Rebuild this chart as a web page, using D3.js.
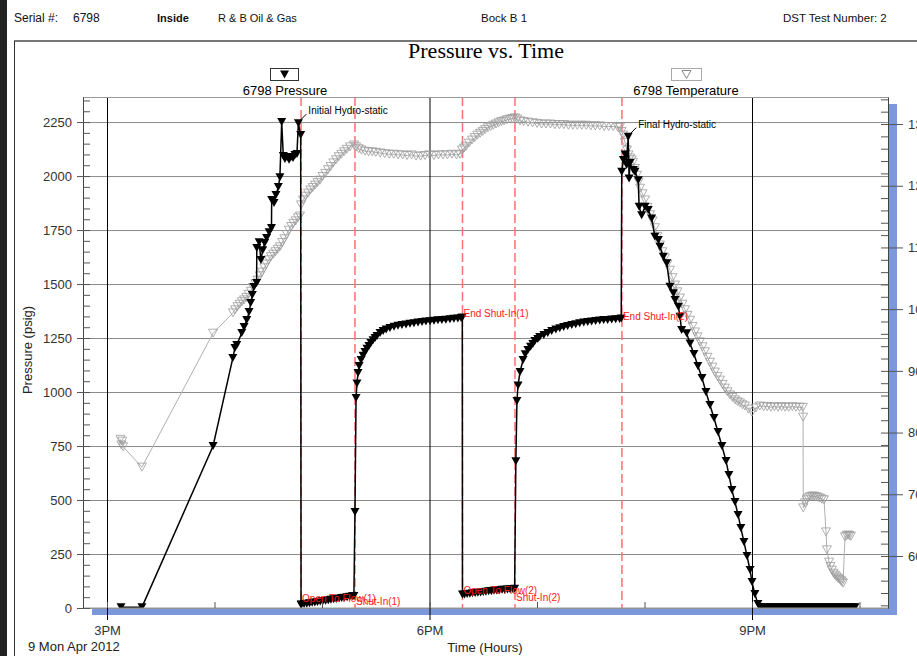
<!DOCTYPE html>
<html>
	<head>
		<title>Pressure vs. Time</title>
		<style>
			body { margin: 0; background: #fff; }
			svg text { font-family: "Liberation Sans", Arial, sans-serif; }
		</style>
	</head>
	<body>
		<script src="https://d3js.org/d3.v7.min.js"></script>
		<div id="wrapper"></div>
<script>
	// axis ticks (time is minutes after 3PM)
	var timeTicks = [0, 180, 360];
	var timeLabels = ["3PM", "6PM", "9PM"];
	var pressureTicks = [0, 250, 500, 750, 1000, 1250, 1500, 1750, 2000, 2250];
	var tempTicks = [60, 70, 80, 90, 100, 110, 120, 130];

	// red dashed event lines and their labels
	var eventTimes = [108.3, 138.4, 198.4, 227.7, 287.4];
	var eventLabels = ["Open To Flow(1)", "Shut-In(1)", "End Shut-In(1)", "Open To Flow(2)", "Shut-In(2)", "End Shut-In(2)"];
	var eventLabelTimes = [108.3, 138.4, 198.4, 198.4, 227.7, 287.4];
	var eventLabelPsi = [28, 14, 1347, 65, 32, 1333];

	// hydro-static call-outs
	var hydroLabels = ["Initial Hydro-static", "Final Hydro-static"];
	var hydroTimes = [106.8, 290.9];
	var hydroPsi = [2245, 2182];

	// 6798 Pressure [minute, psig]
	var pressure = [
		[7.8,4],[19.5,4],[59.2,750],[70.2,1157],[71.4,1204],[72.4,1218],[75.2,1273],[76.5,1301],[78.0,1333],
		[79.3,1370],[80.2,1412],[81.1,1449],[82.0,1486],[83.5,1505],[83.6,1667],[84.9,1694],[85.9,1611],
		[86.9,1657],[88.0,1690],[89.1,1713],[90.5,1740],[91.8,1759],[91.9,1889],[93.2,1875],[94.3,1912],
		[95.6,1949],[96.5,1995],[97.5,2250],[98.4,2093],[99.3,2079],[100.5,2088],[101.6,2075],[102.7,2088],
		[103.8,2083],[104.9,2097],[106.0,2102],[106.8,2245],[108.1,2190],[108.3,15],
		// flow 1
		[108.5,16],[110,18],[111.5,20],[113,22],[114.5,24],[116,26],[117.5,28],[119,30],[120.5,32],[122,34],
		[123.5,36],[125,38],[126.5,40],[128,42],[129.5,44],[131,46],[132.5,48],[134,50],[135.5,52],[137,54],[137.8,56],
		// shut-in 1
		[138.4,444],[139,972],[139.5,1040],[140.1,1088],[140.7,1120],[141.8,1148],[142.9,1168],[144,1185],
		[145.1,1200],[146.2,1213],[147.3,1227],[148.5,1240],[149.6,1250],[150.7,1259],[152.4,1273],[154.1,1282],
		[155.8,1290],[157.9,1296],[160.2,1302],[162.4,1307],[164.6,1310],[166.9,1313],[169.1,1316],[171.3,1319],
		[173.6,1322],[175.8,1324],[178,1326],[180.3,1328],[182.5,1330],[184.7,1332],[186.9,1333],[189.1,1335],
		[191.4,1337],[193.6,1339],[195.8,1341],[197.6,1343],[198.3,1345],
		// flow 2
		[198.4,62],[199.5,63],[201,65],[202.5,66],[204,68],[205.5,69],[207,71],[208.5,72],[210,74],[211.5,75],
		[213,77],[214.5,78],[216,80],[217.5,81],[219,82],[220.5,84],[222,85],[223.5,86],[225,87],[226.5,88],[227.5,89],
		// shut-in 2
		[228.2,680],[228.8,958],[229.4,1030],[230.5,1093],[232.2,1148],[233.4,1175],[234.9,1194],[236.4,1210],
		[237.7,1222],[238.8,1236],[240.4,1246],[241.5,1255],[243.8,1264],[246,1273],[248.2,1282],[250.5,1289],
		[252.7,1295],[254.9,1301],[257.1,1306],[259.4,1310],[261.6,1314],[263.8,1318],[266.1,1322],[268.3,1324],
		[270.5,1327],[272.7,1329],[275,1331],[277.2,1333],[279.4,1334],[281.7,1336],[283.9,1337],[286.1,1338],[287,1340],
		// final hydro and pulling out
		[287.3,2020],[288.2,2074],[289.2,2100],[290,2051],[290.9,2182],[291.4,1989],[291.9,2060],[293.7,2028],
		[294.7,2020],[296.5,1981],[297,1858],[298.4,1819],[300.3,1858],[302.1,1843],[304,1804],[305.8,1719],
		[307.7,1704],[308.6,1673],[310.5,1626],[312.4,1596],[314.2,1488],[316.1,1457],[317,1426],[318.9,1395],
		[319.8,1349],[320.7,1287],[323.5,1272],[325.4,1225],[327.6,1176],[329.8,1120],[332.1,1065],[334.3,1000],
		[336.5,940],[338.8,880],[341,815],[343.2,750],[345.5,681],[347.1,616],[348.8,546],[350.5,491],[352.2,431],
		[353.8,370],[355.5,306],[357.2,241],[358.9,176],[360,120],[361.6,65],[363.3,19],
		// at surface
		[364.4,5],[366.5,3],[368.5,3],[370.5,3],[372.5,3],[374.5,3],[376.5,3],[378.5,3],[380.5,3],[382.5,3],
		[384.5,3],[386.5,3],[388.5,3],[390.5,3],[392.5,3],[394.5,3],[396.5,3],[398.5,3],[400.5,3],[402.5,3],
		[404.5,3],[406.5,3],[408.5,3],[410.5,3],[412.5,3],[414.5,3],[416.5,3],[417.5,3]
	];

	// 6798 Temperature [minute, deg F]
	var temperature = [
		[7.5,78.9],[8,78.0],[8.5,78.6],[9,77.7],[19.5,74.4],[59.2,96.1],
		[70.3,99.4],[71.5,99.9],[72.8,100.4],[74,100.8],[75.3,101.2],[76.5,101.5],[77.8,101.9],[79,102.4],
		[80.3,102.9],[81.5,103.5],[82.8,104.1],[84,104.7],[85.3,105.4],[86.5,106.0],[87.8,106.7],[89,107.3],
		[90.3,108.0],[91.5,108.5],[92.8,108.9],[94,109.3],[95.3,109.7],[96.5,110.1],[97.8,110.8],[99,111.4],
		[100.3,112.1],[101.5,112.8],[102.8,113.4],[104,113.9],[105.3,114.3],[106.5,114.8],[107.7,115.1],
		[108.3,116.9],[109.4,117.7],[110.8,118.3],[112.2,118.8],[113.5,119.3],[114.8,119.7],[116.1,120.1],
		[117.5,120.5],[118.9,120.9],[120.3,121.5],[121.8,122.0],[123.3,122.6],[124.8,123.1],[126.3,123.7],
		[127.8,124.2],[129.3,124.7],[130.8,125.1],[132.3,125.5],[133.8,125.9],[135.6,126.3],[137.9,126.6],
		[139,126.3],[140.5,126.0],[142,125.8],[144,125.6],[146,125.5],[148,125.5],[150,125.4],[152.5,125.3],
		[155,125.2],[157.5,125.1],[160,125.1],[162.5,125.0],[165,125.0],[167.5,124.9],[170,125.0],[172.5,124.8],
		[175,124.8],[177.5,124.9],[180,125.0],[182.5,124.9],[185,125.0],[187.5,125.0],[190,125.0],[192.5,125.1],
		[195,125.0],[197,125.1],
		[198.1,125.8],[199.3,126.1],[200.4,126.4],[202,126.9],[203.7,127.4],[205.2,127.8],[206.7,128.2],
		[208.2,128.5],[209.7,128.8],[211.1,129.1],[212.6,129.4],[214.1,129.6],[215.6,129.8],[217.1,130.0],
		[218.6,130.2],[220.1,130.4],[221.6,130.5],[223.2,130.7],[224.9,130.8],[226.3,130.9],[227.7,131.0],
		[229,130.8],[230.5,130.5],[232.5,130.4],[235,130.3],[237.5,130.2],[240,130.1],[242.5,130.0],[245,130.0],
		[247.5,130.0],[250,129.9],[252.5,129.9],[255,129.9],[257.5,129.8],[260,129.8],[262.5,129.8],[265,129.8],
		[267.5,129.8],[270,129.7],[272.5,129.7],[275,129.7],[277.5,129.6],[280,129.6],[282.5,129.6],[285,129.5],
		[286.3,129.5],
		[287.2,128.8],[288,128.2],[289.1,127.0],[290.2,125.8],[291,125.0],[291.9,124.5],[292.8,124.2],[293.6,123.8],
		[294.7,122.8],[295.8,121.7],[296.7,120.6],[297.5,119.6],[298.9,118.7],[300.3,117.7],[301.7,116.5],
		[303.1,115.3],[304.5,114.3],[305.8,113.2],[307.2,111.8],[308.6,110.4],[310,109.3],[311.4,108.3],
		[312.8,107.3],[314.2,106.3],[315.6,105.1],[317,103.9],[318.4,102.8],[319.8,101.8],[321.2,100.8],
		[322.6,99.9],[324,99.0],[325.4,98.2],[326.8,97.2],[328.2,96.3],[329.6,95.5],[331,94.7],[332.4,93.9],
		[333.7,93.1],[335.1,92.2],[336.5,91.4],[337.9,90.6],[339.3,89.8],[340.7,89.1],[342.1,88.5],[343.5,87.8],
		[344.9,87.2],[346.3,86.6],[347.7,86.1],[349.1,85.7],[350.5,85.3],[351.9,85.0],[353.3,84.8],[354.7,84.5],
		[356.1,84.3],[358,83.8],[360,83.3],[362.2,84.0],[364.4,84.3],
		[366.5,84.2],[368.5,84.2],[370.5,84.1],[372.5,84.2],[374.5,84.1],[376.5,84.2],[378.5,84.1],[380.5,84.1],
		[382.5,84.2],[384.5,84.1],[386.5,84.1],[388.4,84.1],
		[388.5,82.5],[388.6,67.8],[389.6,68.6],[390.5,69.1],[391.2,69.4],[392.3,69.6],[393.5,69.7],[394.6,69.7],
		[395.7,69.6],[396.8,69.5],[397.9,69.4],[399,69.2],[400.2,69.1],
		[401.3,63.9],[401.8,61.0],[403,59.0],[403.8,58.3],[404.6,57.7],[405.5,57.2],[406.3,56.9],[407.1,56.6],
		[408,56.4],[408.8,56.2],[409.6,56.0],[410.2,55.8],[410.8,55.6],
		[411.9,63.1],[412.8,63.3],[413.6,63.4],[414.4,63.3],[415.2,63.2]
	];

	// add an SVG
	var w = 917;
	var h = 656;
	var plotL = 83, plotR = 888, plotT = 97, plotB = 608;
	var svg = d3.select("#wrapper")
				.append("svg")
				.attr("width", w)
				.attr("height", h);

	// scales
	var x = d3.scaleLinear().domain([-13.4, 435.9]).range([plotL, plotR]);
	var yP = d3.scaleLinear().domain([0, 2366]).range([plotB, plotT]);
	var yT = d3.scaleLinear().domain([51.57, 134.38]).range([plotB, plotT]);

	// page frame
	svg.append("rect").attr("x", 0).attr("y", 0).attr("width", 7).attr("height", h).style("fill", "#222");
	svg.append("line").attr("x1", 14).attr("y1", 41).attr("x2", w).attr("y2", 41)
		.style("stroke", "#777").style("stroke-width", 2);
	svg.append("line").attr("x1", 14.5).attr("y1", 41).attr("x2", 14.5).attr("y2", h)
		.style("stroke", "#333");

	// header
	var head = svg.append("g").style("font-size", "11.5px").style("fill", "#111");
	head.append("text").attr("x", 14).attr("y", 22).style("font-size", "12px").text("Serial #:");
	head.append("text").attr("x", 73).attr("y", 22).style("font-size", "12px").text("6798");
	head.append("text").attr("x", 157).attr("y", 22).style("font-weight", "bold").style("font-size", "11px").text("Inside");
	head.append("text").attr("x", 218).attr("y", 22).style("font-size", "11px").text("R & B Oil & Gas");
	head.append("text").attr("x", 481).attr("y", 22).text("Bock B 1");
	head.append("text").attr("x", 783).attr("y", 22).text("DST Test Number: 2");

	// title
	svg.append("text").attr("x", 486).attr("y", 58)
		.attr("text-anchor", "middle")
		.style("font-family", "'Liberation Serif', 'Times New Roman', serif")
		.style("font-size", "22px")
		.text("Pressure vs. Time");

	// legend
	var tri = "M-4.5,-4L4.5,-4L0,4Z";
	svg.append("rect").attr("x", 270.5).attr("y", 68.5).attr("width", 28).attr("height", 12)
		.style("fill", "#fff").style("stroke", "#333");
	svg.append("path").attr("d", tri).attr("transform", "translate(284.5,74.5)").style("fill", "#000");
	svg.append("text").attr("x", 285).attr("y", 95).attr("text-anchor", "middle")
		.style("font-size", "13px").text("6798 Pressure");
	svg.append("rect").attr("x", 671.5).attr("y", 68.5).attr("width", 30).attr("height", 12)
		.style("fill", "#fff").style("stroke", "#aaa");
	svg.append("path").attr("d", tri).attr("transform", "translate(686.5,74.5)")
		.style("fill", "none").style("stroke", "#888");
	svg.append("text").attr("x", 686).attr("y", 95).attr("text-anchor", "middle")
		.style("font-size", "13px").text("6798 Temperature");

	// shadow and plot background
	svg.append("rect").attr("x", plotL + 9).attr("y", plotT + 7)
		.attr("width", plotR - plotL).attr("height", plotB - plotT)
		.style("fill", "#7b98dc");
	svg.append("rect").attr("x", plotL).attr("y", plotT)
		.attr("width", plotR - plotL).attr("height", plotB - plotT)
		.style("fill", "#fff");

	// horizontal grid
	svg.append("g").attr("class", "grid").attr("transform", "translate(" + plotL + ",0)")
		.call(d3.axisLeft(yP).tickValues(pressureTicks).tickSize(-(plotR - plotL)).tickFormat("").tickSizeOuter(0));
	svg.selectAll(".grid line").style("stroke", "#8a8a8a");
	svg.selectAll(".grid .domain").remove();

	// vertical time lines
	svg.append("g").attr("class", "vgrid").attr("transform", "translate(0," + plotB + ")")
		.call(d3.axisBottom(x).tickValues(timeTicks).tickSize(-(plotB - plotT)).tickFormat("").tickSizeOuter(0));
	svg.selectAll(".vgrid line").style("stroke", "#000");
	svg.selectAll(".vgrid .domain").remove();

	// event lines
	svg.selectAll(".event")
		.data(eventTimes)
		.enter()
		.append("line")
		.attr("class", "event")
		.attr("x1", function(d) { return x(d); })
		.attr("x2", function(d) { return x(d); })
		.attr("y1", plotT)
		.attr("y2", plotB)
		.style("stroke", "#ff7070")
		.style("stroke-width", 1.5)
		.style("stroke-dasharray", "9,4");

	// clip the series to the plot
	svg.append("clipPath").attr("id", "plotClip")
		.append("rect").attr("x", plotL).attr("y", plotT)
		.attr("width", plotR - plotL).attr("height", plotB - plotT);
	var plot = svg.append("g").attr("clip-path", "url(#plotClip)");

	// temperature series
	var lineT = d3.line()
		.x(function(d) { return x(d[0]); })
		.y(function(d) { return yT(d[1]); });
	plot.append("path").datum(temperature).attr("d", lineT)
		.style("fill", "none").style("stroke", "#b0b0b0").style("stroke-width", 1);
	plot.selectAll(".tmark")
		.data(temperature)
		.enter()
		.append("path")
		.attr("class", "tmark")
		.attr("d", tri)
		.attr("transform", function(d) { return "translate(" + x(d[0]) + "," + yT(d[1]) + ")"; })
		.style("fill", "none")
		.style("stroke", "#9a9a9a")
		.style("stroke-width", 0.8);

	// pressure series
	var lineP = d3.line()
		.x(function(d) { return x(d[0]); })
		.y(function(d) { return yP(d[1]); });
	plot.append("path").datum(pressure).attr("d", lineP)
		.style("fill", "none").style("stroke", "#000").style("stroke-width", 1.5);
	plot.selectAll(".pmark")
		.data(pressure)
		.enter()
		.append("path")
		.attr("class", "pmark")
		.attr("d", tri)
		.attr("transform", function(d) { return "translate(" + x(d[0]) + "," + yP(d[1]) + ")"; })
		.style("fill", "#000");

	// plot border
	svg.append("line").attr("x1", plotL).attr("x2", plotR).attr("y1", plotT + 0.5).attr("y2", plotT + 0.5).style("stroke", "#999");
	svg.append("line").attr("x1", plotL).attr("x2", plotR).attr("y1", plotB).attr("y2", plotB).style("stroke", "#999");

	// left axis
	svg.append("g").attr("class", "ax").attr("transform", "translate(" + plotL + ",0)")
		.call(d3.axisLeft(yP).tickValues(pressureTicks).tickSize(6).tickPadding(5).tickSizeOuter(0)
			.tickFormat(d3.format("d")));
	svg.append("g").attr("class", "ax").attr("transform", "translate(" + plotL + ",0)")
		.call(d3.axisRight(yP).tickValues(d3.range(0, 2366, 50)).tickSize(7).tickFormat("").tickSizeOuter(0));

	// right axis
	svg.append("g").attr("class", "ax").attr("transform", "translate(" + plotR + ",0)")
		.call(d3.axisRight(yT).tickValues(tempTicks).tickSize(15).tickPadding(5).tickSizeOuter(0));
	svg.append("g").attr("class", "ax").attr("transform", "translate(" + plotR + ",0)")
		.call(d3.axisLeft(yT).tickValues(d3.range(52, 134.4, 2)).tickSize(7).tickFormat("").tickSizeOuter(0));

	// bottom axis
	svg.append("g").attr("class", "ax minorx").attr("transform", "translate(0," + plotB + ")")
		.call(d3.axisTop(x).tickValues(d3.range(0, 436, 60)).tickSize(6).tickFormat("").tickSizeOuter(0));
	svg.selectAll(".minorx .domain").remove();
	svg.append("g").attr("class", "ax bx").attr("transform", "translate(0," + plotB + ")")
		.call(d3.axisBottom(x).tickValues(timeTicks).tickSize(12).tickPadding(6).tickSizeOuter(0)
			.tickFormat(function(d, i) { return timeLabels[i]; }));
	svg.selectAll(".bx .domain").remove();

	svg.selectAll(".ax .domain").style("stroke", "#444");
	svg.selectAll(".ax line").style("stroke", "#555");
	svg.selectAll(".bx line").style("stroke", "#000");
	svg.selectAll(".ax text").style("font-size", "13px").style("fill", "#333")
		.style("font-family", "'Liberation Sans', Arial, sans-serif");

	// axis titles
	svg.append("text").attr("transform", "translate(32,350) rotate(-90)")
		.attr("text-anchor", "middle").style("font-size", "13px").style("fill", "#222")
		.text("Pressure (psig)");
	svg.append("text").attr("x", 485).attr("y", 652).attr("text-anchor", "middle")
		.style("font-size", "13px").style("fill", "#222").text("Time (Hours)");
	svg.append("text").attr("x", 28).attr("y", 651)
		.style("font-size", "13px").style("fill", "#222").text("9 Mon Apr 2012");

	// event labels
	svg.selectAll(".elabel")
		.data(eventLabels)
		.enter()
		.append("text")
		.attr("class", "elabel")
		.attr("x", function(d, i) { return x(eventLabelTimes[i]) + 1; })
		.attr("y", function(d, i) { return yP(eventLabelPsi[i]); })
		.style("font-size", "10px")
		.style("fill", "#ff1a1a")
		.text(function(d) { return d; });

	// hydro-static call-outs
	hydroLabels.forEach(function(d, i) {
		var px = x(hydroTimes[i]);
		var py = yP(hydroPsi[i]);
		svg.append("line").attr("x1", px + 2).attr("y1", py - 3).attr("x2", px + 8).attr("y2", py - 9)
			.style("stroke", "#000");
		svg.append("text").attr("x", px + 10).attr("y", py - 9)
			.style("font-size", "10px").style("fill", "#000").text(d);
	});
</script>
	</body>
</html>
